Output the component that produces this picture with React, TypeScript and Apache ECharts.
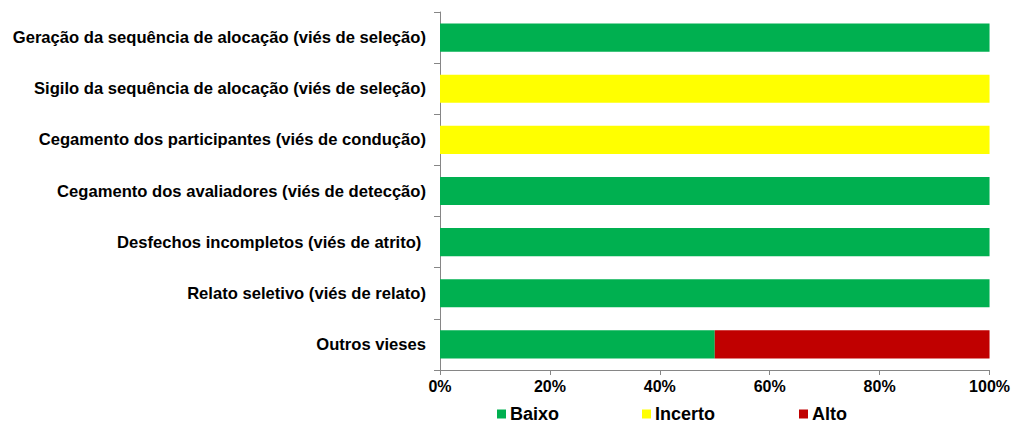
import React, { useEffect, useRef } from "react";
import * as echarts from "echarts";

const categories = [
  "Geração da sequência de alocação (viés de seleção)",
  "Sigilo da sequência de alocação (viés de seleção)",
  "Cegamento dos participantes (viés de condução)",
  "Cegamento dos avaliadores (viés de detecção)",
  "Desfechos incompletos (viés de atrito) ",
  "Relato seletivo (viés de relato)",
  "Outros vieses",
];
const baixo = [100, 0, 0, 100, 100, 100, 50];
const incerto = [0, 100, 100, 0, 0, 0, 0];
const alto = [0, 0, 0, 0, 0, 0, 50];
const seriesNames = ["Baixo", "Incerto", "Alto"];
const colors = ["#00B050", "#FFFF00", "#C00000"];
const legendLefts = [497, 642, 799];

export default function App() {
  const ref = useRef<HTMLDivElement>(null);
  useEffect(() => {
    const chart = echarts.init(ref.current!, null, { renderer: "svg" });
    const font = "Arial, 'Liberation Sans', sans-serif";
    const data = [baixo, incerto, alto];
    chart.setOption({
      animation: false,
      textStyle: { fontFamily: font },
      grid: { left: 440, right: 23, top: 12, bottom: 55, containLabel: false },
      legend: seriesNames.map((name, i) => ({
        top: 405,
        left: legendLefts[i],
        padding: 0,
        itemWidth: 9,
        itemHeight: 9,
        itemGap: 6,
        icon: "rect",
        textStyle: { fontSize: 18, fontWeight: "bold", color: "#000", fontFamily: font, padding: [0, 0, 0, -1] },
        data: [name],
      })),
      xAxis: {
        type: "value",
        min: 0,
        max: 100,
        interval: 20,
        axisLine: { show: true, lineStyle: { color: "#868686" } },
        axisTick: { show: true, length: 5, lineStyle: { color: "#868686" } },
        splitLine: { show: false },
        axisLabel: {
          formatter: "{value}%",
          fontSize: 16,
          fontWeight: "bold",
          color: "#000",
          margin: 8,
          fontFamily: font,
        },
      },
      yAxis: {
        type: "category",
        inverse: true,
        data: categories,
        axisLine: { show: true, lineStyle: { color: "#868686" } },
        axisTick: { show: true, length: 6, lineStyle: { color: "#868686" } },
        axisLabel: {
          fontSize: 16.6,
          fontWeight: "bold",
          color: "#000",
          margin: 14,
          fontFamily: font,
        },
      },
      series: seriesNames.map((name, i) => ({
        name,
        type: "bar",
        stack: "total",
        barCategoryGap: "45%",
        data: data[i],
        itemStyle: { color: colors[i] },
      })),
    });
    return () => chart.dispose();
  }, []);
  return <div ref={ref} style={{ width: 1013, height: 425, position: "absolute", left: 0, top: 0 }} />;
}
